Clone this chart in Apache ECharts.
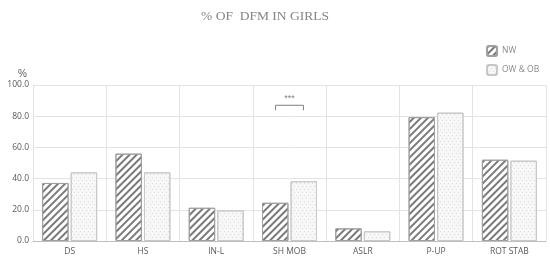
<!DOCTYPE html>
<html><head><meta charset="utf-8">
<script src="https://cdn.jsdelivr.net/npm/echarts@6/dist/echarts.min.js"></script>
<style>html,body{margin:0;padding:0;background:#fff}#c{width:550px;height:259px}</style>
</head><body><div id="c"></div>
<script>
const categories = ['DS','HS','IN-L','SH MOB','ASLR','P-UP','ROT STAB'];
const nwValues = [37.2, 56.0, 21.3, 24.5, 8.1, 79.4, 52.1];
const owValues = [44.0, 44.0, 19.6, 38.3, 6.2, 82.3, 51.5];
const seriesNames = ['NW', 'OW & OB'];
const yTicks = [0, 20, 40, 60, 80, 100];
const sigCategory = 'SH MOB';
const sigLevel = 87;
const sigText = '***';

const chart = echarts.init(document.getElementById('c'));
const hatch = {symbol:'rect', dashArrayX:[1,0], dashArrayY:[1.3,2.3], rotation:-Math.PI/4, color:'#7a7a7a'};
const dots = {symbol:'circle', symbolSize:0.7, dashArrayX:[[1,3],[0,2,1,1]], dashArrayY:[1,2], color:'#8a8a8a'};
chart.setOption({
  animation:false,
  title:{text:'% OF  DFM IN GIRLS', left:260, top:4, textAlign:'center',
    textStyle:{fontFamily:'Liberation Serif', fontWeight:'normal', fontSize:13.5, color:'#858585'}},
  legend:{orient:'vertical', left:481, top:40, itemWidth:10, itemHeight:10, itemGap:7,
    textStyle:{fontSize:8.5, color:'#8a8a8a', fontFamily:'Open Sans'},
    data:seriesNames},
  grid:{left:33, right:4, top:85, bottom:18},
  xAxis:{type:'category', data:categories,
    axisLine:{lineStyle:{color:'#bfbfbf'}}, axisTick:{show:false},
    axisLabel:{fontSize:8.5, color:'#595959', fontFamily:'Open Sans', margin:6},
    splitLine:{show:true, lineStyle:{color:'#e3e3e3'}}},
  yAxis:{type:'value', min:yTicks[0], max:yTicks[yTicks.length-1], interval:20,
    name:'%', nameLocation:'end', nameGap:6,
    nameTextStyle:{fontSize:10, color:'#595959', align:'right', padding:[0,6,0,0]},
    axisLabel:{fontSize:8.5, color:'#595959', fontFamily:'Open Sans', formatter:v=>v.toFixed(1), margin:4},
    splitLine:{lineStyle:{color:'#e3e3e3'}}},
  series:[
    {name:seriesNames[0], type:'bar', data:nwValues, barCategoryGap:'25%', barGap:'8%',
      itemStyle:{color:'#ffffff', borderColor:'#a0a0a0', borderWidth:1, decal:hatch}},
    {name:seriesNames[1], type:'bar', data:owValues,
      itemStyle:{color:'#f7f7f7', borderColor:'#c8c8c8', borderWidth:1, decal:dots}},
    {type:'custom', silent:true, z:5, data:[[categories.indexOf(sigCategory), sigLevel]],
      renderItem:function(params, api){
        const c = api.coord([api.value(0), api.value(1)]);
        const bw = api.size([1,0])[0];
        const half = bw*0.19;
        const x1 = c[0]-half, x2 = c[0]+half, y = c[1];
        return {type:'group', children:[
          {type:'polyline', shape:{points:[[x1,y+5],[x1,y],[x2,y],[x2,y+5]]}, style:{stroke:'#7f7f7f', lineWidth:1, fill:null}},
          {type:'text', style:{text:sigText, x:c[0], y:y-2, textAlign:'center', textVerticalAlign:'bottom', fontSize:9, fill:'#7f7f7f'}}
        ]};
      }}
  ]
});
</script></body></html>
